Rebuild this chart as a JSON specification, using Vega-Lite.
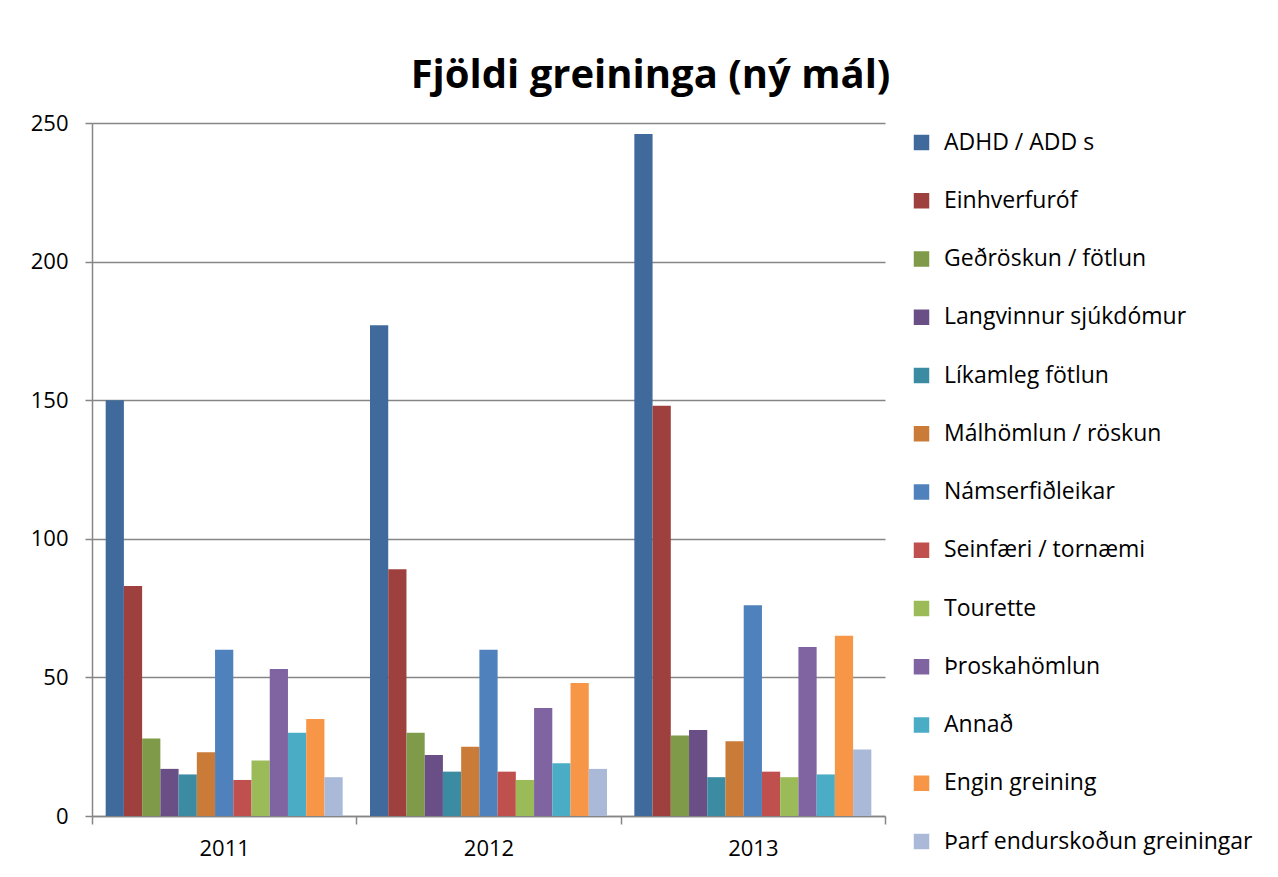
{
  "$schema": "https://vega.github.io/schema/vega-lite/v6.json",
  "width": 793,
  "height": 693,
  "autosize": {"type": "none"},
  "padding": {"left": 92, "top": 123, "right": 393, "bottom": 61},
  "background": "#ffffff",
  "title": {
    "text": "Fjöldi greininga (ný mál)",
    "font": "Open Sans",
    "fontSize": 40,
    "fontWeight": "bold",
    "color": "#000000",
    "anchor": "middle",
    "frame": "group",
    "dx": 162,
    "offset": 16
  },
  "data": {
    "values": [
      {"year": "2011", "greining": "ADHD / ADD s", "fjoldi": 150},
      {"year": "2011", "greining": "Einhverfuróf", "fjoldi": 83},
      {"year": "2011", "greining": "Geðröskun / fötlun", "fjoldi": 28},
      {"year": "2011", "greining": "Langvinnur sjúkdómur", "fjoldi": 17},
      {"year": "2011", "greining": "Líkamleg fötlun", "fjoldi": 15},
      {"year": "2011", "greining": "Málhömlun / röskun", "fjoldi": 23},
      {"year": "2011", "greining": "Námserfiðleikar", "fjoldi": 60},
      {"year": "2011", "greining": "Seinfæri / tornæmi", "fjoldi": 13},
      {"year": "2011", "greining": "Tourette", "fjoldi": 20},
      {"year": "2011", "greining": "Þroskahömlun", "fjoldi": 53},
      {"year": "2011", "greining": "Annað", "fjoldi": 30},
      {"year": "2011", "greining": "Engin greining", "fjoldi": 35},
      {"year": "2011", "greining": "Þarf endurskoðun greiningar", "fjoldi": 14},
      {"year": "2012", "greining": "ADHD / ADD s", "fjoldi": 177},
      {"year": "2012", "greining": "Einhverfuróf", "fjoldi": 89},
      {"year": "2012", "greining": "Geðröskun / fötlun", "fjoldi": 30},
      {"year": "2012", "greining": "Langvinnur sjúkdómur", "fjoldi": 22},
      {"year": "2012", "greining": "Líkamleg fötlun", "fjoldi": 16},
      {"year": "2012", "greining": "Málhömlun / röskun", "fjoldi": 25},
      {"year": "2012", "greining": "Námserfiðleikar", "fjoldi": 60},
      {"year": "2012", "greining": "Seinfæri / tornæmi", "fjoldi": 16},
      {"year": "2012", "greining": "Tourette", "fjoldi": 13},
      {"year": "2012", "greining": "Þroskahömlun", "fjoldi": 39},
      {"year": "2012", "greining": "Annað", "fjoldi": 19},
      {"year": "2012", "greining": "Engin greining", "fjoldi": 48},
      {"year": "2012", "greining": "Þarf endurskoðun greiningar", "fjoldi": 17},
      {"year": "2013", "greining": "ADHD / ADD s", "fjoldi": 246},
      {"year": "2013", "greining": "Einhverfuróf", "fjoldi": 148},
      {"year": "2013", "greining": "Geðröskun / fötlun", "fjoldi": 29},
      {"year": "2013", "greining": "Langvinnur sjúkdómur", "fjoldi": 31},
      {"year": "2013", "greining": "Líkamleg fötlun", "fjoldi": 14},
      {"year": "2013", "greining": "Málhömlun / röskun", "fjoldi": 27},
      {"year": "2013", "greining": "Námserfiðleikar", "fjoldi": 76},
      {"year": "2013", "greining": "Seinfæri / tornæmi", "fjoldi": 16},
      {"year": "2013", "greining": "Tourette", "fjoldi": 14},
      {"year": "2013", "greining": "Þroskahömlun", "fjoldi": 61},
      {"year": "2013", "greining": "Annað", "fjoldi": 15},
      {"year": "2013", "greining": "Engin greining", "fjoldi": 65},
      {"year": "2013", "greining": "Þarf endurskoðun greiningar", "fjoldi": 24}
    ]
  },
  "mark": {"type": "bar"},
  "encoding": {
    "x": {
      "field": "year",
      "type": "nominal",
      "scale": {"paddingInner": 0, "paddingOuter": 0},
      "axis": {
        "title": null,
        "labelAngle": 0,
        "labelFont": "Open Sans",
        "labelFontSize": 22,
        "labelColor": "#000000",
        "labelPadding": 14,
        "tickBand": "extent",
        "tickSize": 8,
        "tickColor": "#868686",
        "tickWidth": 1.5,
        "domainColor": "#868686",
        "domainWidth": 1.5,
        "grid": false
      }
    },
    "xOffset": {
      "field": "greining",
      "type": "nominal",
      "sort": ["ADHD / ADD s", "Einhverfuróf", "Geðröskun / fötlun", "Langvinnur sjúkdómur", "Líkamleg fötlun", "Málhömlun / röskun", "Námserfiðleikar", "Seinfæri / tornæmi", "Tourette", "Þroskahömlun", "Annað", "Engin greining", "Þarf endurskoðun greiningar"],
      "scale": {"paddingInner": 0, "paddingOuter": 0.75}
    },
    "y": {
      "field": "fjoldi",
      "type": "quantitative",
      "scale": {"domain": [0, 250], "nice": false},
      "axis": {
        "title": null,
        "values": [0, 50, 100, 150, 200, 250],
        "labelFont": "Open Sans",
        "labelFontSize": 22,
        "labelColor": "#000000",
        "labelPadding": 17,
        "tickSize": 7,
        "tickColor": "#868686",
        "tickWidth": 1.5,
        "domainColor": "#868686",
        "domainWidth": 1.5,
        "gridColor": "#868686",
        "gridWidth": 1.5
      }
    },
    "color": {
      "field": "greining",
      "type": "nominal",
      "scale": {
        "domain": ["ADHD / ADD s", "Einhverfuróf", "Geðröskun / fötlun", "Langvinnur sjúkdómur", "Líkamleg fötlun", "Málhömlun / röskun", "Námserfiðleikar", "Seinfæri / tornæmi", "Tourette", "Þroskahömlun", "Annað", "Engin greining", "Þarf endurskoðun greiningar"],
        "range": ["#416A9C", "#9E413E", "#7F9A48", "#694F86", "#3B8CA3", "#CB7B38", "#4F81BD", "#C0504D", "#9BBB59", "#8064A2", "#4BACC6", "#F79646", "#AAB9D7"]
      },
      "legend": {
        "title": null,
        "orient": "none",
        "legendX": 818,
        "legendY": 8,
        "padding": 0,
        "symbolType": "square",
        "symbolSize": 240,
        "symbolStrokeWidth": 0,
        "labelFont": "Open Sans",
        "labelFontSize": 23,
        "labelColor": "#000000",
        "labelOffset": 11,
        "rowPadding": 34.25,
        "labelLimit": 400
      }
    }
  },
  "config": {
    "view": {"stroke": null}
  }
}
